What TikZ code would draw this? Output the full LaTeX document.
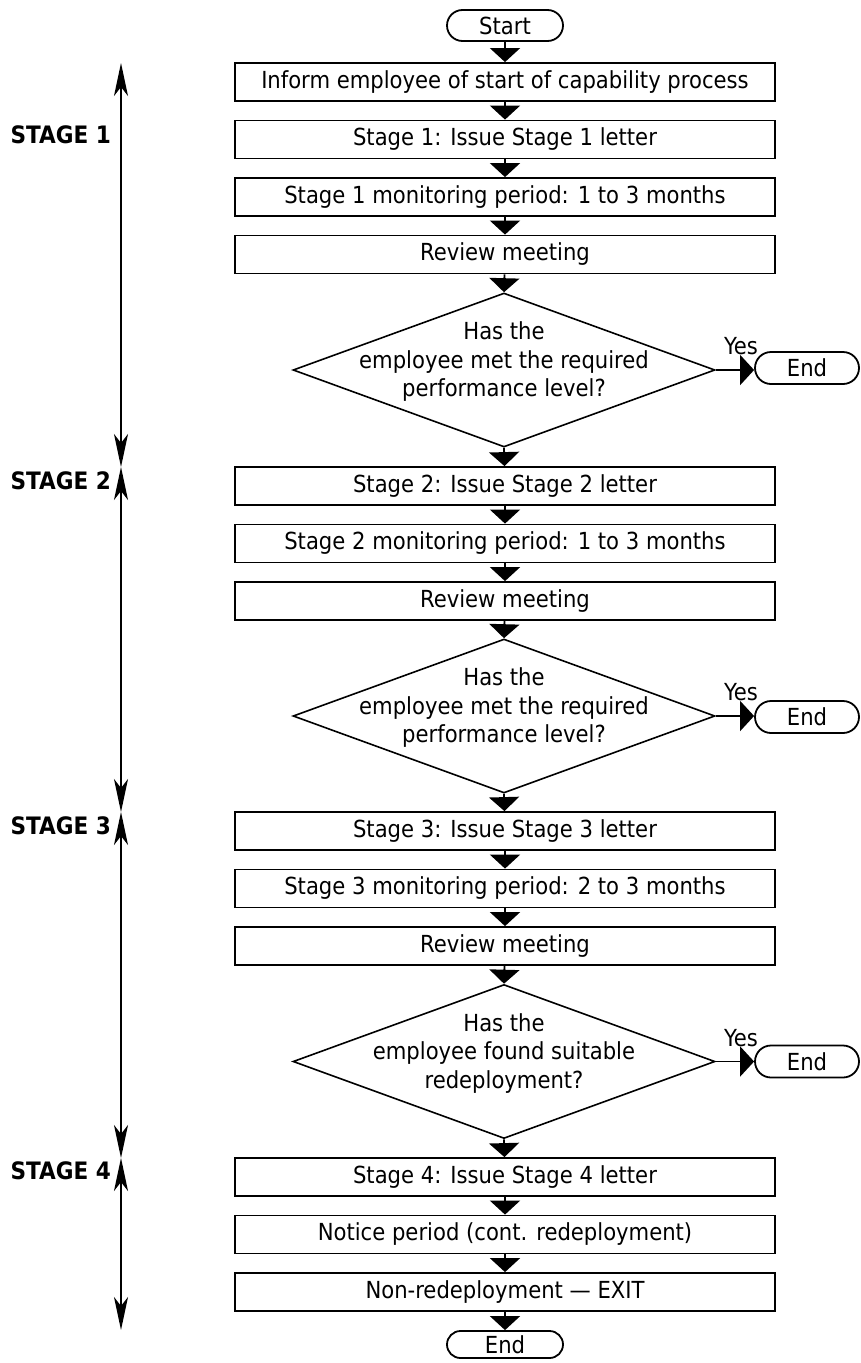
\documentclass[tikz,border=0pt]{standalone}
\usepackage{fontspec}
\setmainfont{DejaVu Sans Condensed}
\usetikzlibrary{arrows.meta,shapes.geometric,shapes.misc}
\begin{document}
\begin{tikzpicture}[x=1pt,y=-1pt,
  every node/.style={font=\fontsize{23.5}{28.5}\selectfont},
  box/.style={draw,line width=1.8pt,rectangle,minimum width=540pt,minimum height=38pt,inner sep=0pt},
  term/.style={draw,line width=1.8pt,rounded rectangle,minimum width=116pt,minimum height=31pt,inner sep=0pt},
  sterm/.style={term,minimum width=104pt,minimum height=32pt},
  dec/.style={draw,line width=1.6pt,diamond,minimum width=422pt,minimum height=154pt,inner sep=0pt},
  dtext/.style={align=center,inner sep=0pt},
  conn/.style={line width=1.8pt,-{Triangle[length=14pt,width=30pt]}},
  side/.style={line width=2pt,{Stealth[length=33pt,width=14pt,inset=9pt]}-{Stealth[length=33pt,width=14pt,inset=9pt]}},
  stg/.style={font=\fontsize{24}{28}\selectfont\bfseries,anchor=east,inner sep=0pt},
  yes/.style={inner sep=0pt}
]
\useasboundingbox (0,0) rectangle (861,1363);

% Stage 1
\node[term] (start) at (505,25.5) {Start};
\node[box] (b1) at (505,82) {Inform employee of start of capability process};
\node[box] (b2) at (505,139.5) {Stage 1: Issue Stage 1 letter};
\node[box] (b3) at (505,197) {Stage 1 monitoring period: 1 to 3 months};
\node[box] (b4) at (505,254.5) {Review meeting};
\node[dec] (d1) at (504,370) {};
\node[dtext] (t1) at (504,362) {Has the\\employee met the required\\performance level?};
\node[sterm] (e1) at (807,368) {End};
\node[yes] (y1) at (741,346) {Yes};

% Stage 2
\node[box] (b5) at (505,486) {Stage 2: Issue Stage 2 letter};
\node[box] (b6) at (505,543.5) {Stage 2 monitoring period: 1 to 3 months};
\node[box] (b7) at (505,601) {Review meeting};
\node[dec] (d2) at (504,716) {};
\node[dtext] (t2) at (504,708) {Has the\\employee met the required\\performance level?};
\node[sterm] (e2) at (807,717) {End};
\node[yes] (y2) at (741,692) {Yes};

% Stage 3
\node[box] (b8) at (505,831) {Stage 3: Issue Stage 3 letter};
\node[box] (b9) at (505,888.5) {Stage 3 monitoring period: 2 to 3 months};
\node[box] (b10) at (505,946) {Review meeting};
\node[dec] (d3) at (504,1061.5) {};
\node[dtext] (t3) at (504,1053.5) {Has the\\employee found suitable\\redeployment?};
\node[sterm] (e3) at (807,1061.5) {End};
\node[yes] (y3) at (741,1038) {Yes};

% Stage 4
\node[box] (b11) at (505,1177) {Stage 4: Issue Stage 4 letter};
\node[box] (b12) at (505,1234.5) {Notice period (cont. redeployment)};
\node[box] (b13) at (505,1292) {Non-redeployment \textemdash{} EXIT};
\node[term,minimum height=27pt] (end) at (505,1344.5) {End};

% connectors
\draw[conn] (start) -- (b1);
\draw[conn] (b1) -- (b2);
\draw[conn] (b2) -- (b3);
\draw[conn] (b3) -- (b4);
\draw[conn] (b4) -- (d1.north);
\draw[conn] (d1.south) -- (b5);
\draw[conn] (b5) -- (b6);
\draw[conn] (b6) -- (b7);
\draw[conn] (b7) -- (d2.north);
\draw[conn] (d2.south) -- (b8);
\draw[conn] (b8) -- (b9);
\draw[conn] (b9) -- (b10);
\draw[conn] (b10) -- (d3.north);
\draw[conn] (d3.south) -- (b11);
\draw[conn] (b11) -- (b12);
\draw[conn] (b12) -- (b13);
\draw[conn] (b13) -- (end);
\draw[conn] (d1.east) -- (d1.east -| e1.west);
\draw[conn] (d2.east) -- (d2.east -| e2.west);
\draw[conn] (d3.east) -- (d3.east -| e3.west);

% stage arrows
\coordinate (s1) at (121,63);
\coordinate (s2) at (121,467);
\coordinate (s3) at (121,812);
\coordinate (s4) at (121,1158);
\coordinate (s5) at (121,1330);
\draw[side] (s1) -- (s2);
\draw[side] (s2) -- (s3);
\draw[side] (s3) -- (s4);
\draw[side] (s4) -- (s5);

\node[stg] (l1) at (111,135) {STAGE 1};
\node[stg] (l2) at (111,481) {STAGE 2};
\node[stg] (l3) at (111,826) {STAGE 3};
\node[stg] (l4) at (111,1171) {STAGE 4};
\end{tikzpicture}
\end{document}
